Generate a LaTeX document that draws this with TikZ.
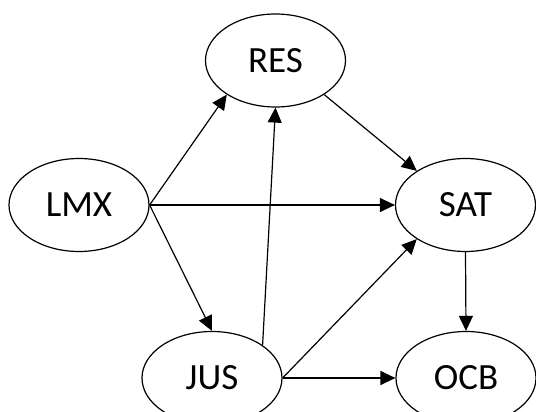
\documentclass[tikz,border=0pt]{standalone}
\usepackage{fontspec}
\setmainfont{Carlito}
\usetikzlibrary{shapes.geometric,arrows.meta}
\begin{document}
\begin{tikzpicture}[x=1pt,y=-1pt,
  var/.style={draw,ellipse,line width=1.2pt,inner sep=0pt,minimum width=140pt,minimum height=93pt,font=\fontsize{37}{42}\selectfont},
  link/.style={line width=1.2pt,-{Triangle[length=15pt,width=14pt]}}]
\useasboundingbox (0,0) rectangle (536,412);
\node[var] (RES) at (275.5,60.5) {RES};
\node[var] (LMX) at (79,205) {LMX};
\node[var] (SAT) at (465.5,205) {SAT};
\node[var] (JUS) at (212,378) {JUS};
\node[var] (OCB) at (466,378) {OCB};
\draw[link] (LMX.east) -- (RES.215);
\draw[link] (LMX.east) -- (SAT.west);
\draw[link] (LMX.east) -- (JUS.north);
\draw[link] (JUS.33) -- (RES.south);
\draw[link] (RES.-35) -- (SAT.145);
\draw[link] (JUS.east) -- (SAT.215);
\draw[link] (JUS.east) -- (OCB.west);
\draw[link] (SAT.south) -- (OCB.north);
\end{tikzpicture}
\end{document}
